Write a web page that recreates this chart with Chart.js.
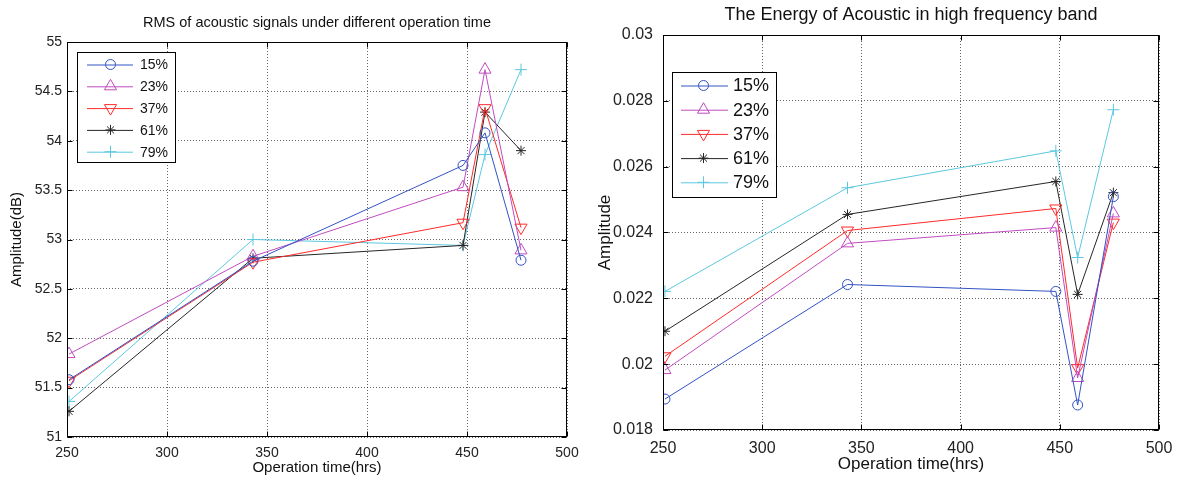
<!DOCTYPE html>
<html>
<head>
<meta charset="utf-8">
<script src="https://cdn.jsdelivr.net/npm/chart.js@4.4.1/dist/chart.umd.min.js"></script>
<style>
body { margin: 0; background: #fff; width: 1184px; height: 480px; overflow: hidden; position: relative; }
canvas { position: absolute; top: 0; }
</style>
</head>
<body>
<canvas id="rmsChart" width="592" height="480" style="left:0"></canvas>
<canvas id="energyChart" width="592" height="480" style="left:592px"></canvas>
<script>
// operation time of each measurement (hrs)
const hours = [251, 343, 448, 459, 477];
const seriesNames = ['15%', '23%', '37%', '61%', '79%'];

// RMS (dB)
const rms15 = [51.58, 52.78, 53.75, 54.08, 52.79];
const rms23 = [51.84, 52.83, 53.53, 54.72, 52.89];
const rms37 = [51.57, 52.77, 53.17, 54.33, 53.12];
const rms61 = [51.26, 52.81, 52.94, 54.29, 53.90];
const rms79 = [51.36, 53.00, 52.94, 53.86, 54.72];

// energy in high frequency band
const energy15 = [0.01894, 0.02242, 0.02221, 0.01876, 0.02509];
const energy23 = [0.01982, 0.02367, 0.02415, 0.01958, 0.02458];
const energy37 = [0.02024, 0.02406, 0.02473, 0.01988, 0.02430];
const energy61 = [0.02100, 0.02455, 0.02555, 0.02212, 0.02521];
const energy79 = [0.02221, 0.02536, 0.02648, 0.02324, 0.02773];

const hourTicks = [250, 300, 350, 400, 450, 500];
const rmsTicks = [51, 51.5, 52, 52.5, 53, 53.5, 54, 54.5, 55];
const energyTicks = [0.018, 0.02, 0.022, 0.024, 0.026, 0.028, 0.03];

const colors = ['#3352c4', '#c04cc0', '#ff2a2a', '#262626', '#5cc8de'];
const markers = ['circle', 'triangle', 'triangle', 'star', 'cross'];
const markerRot = [0, 0, 180, 0, 0];

Chart.defaults.font.family = '"Liberation Sans", Arial, sans-serif';
Chart.defaults.color = '#222';

const boxPlugin = {
    id: 'box',
    afterDatasetsDraw(chart, args, opts) {
        const { ctx, chartArea: a, scales } = chart;
        const l = Math.round(a.left) + 0.5, r = Math.round(a.right) - 0.5;
        const t = Math.round(a.top) + 0.5, b = Math.round(a.bottom) - 0.5;
        ctx.save();
        ctx.strokeStyle = '#000';
        ctx.lineWidth = 1;
        ctx.beginPath();
        scales.x.ticks.forEach(tk => {
            const px = Math.round(scales.x.getPixelForValue(tk.value)) + 0.5;
            ctx.moveTo(px, b); ctx.lineTo(px, b - opts.len);
            ctx.moveTo(px, t); ctx.lineTo(px, t + opts.len);
        });
        scales.y.ticks.forEach(tk => {
            const py = Math.round(scales.y.getPixelForValue(tk.value)) + 0.5;
            ctx.moveTo(l, py); ctx.lineTo(l + opts.len, py);
            ctx.moveTo(r, py); ctx.lineTo(r - opts.len, py);
        });
        ctx.stroke();
        ctx.strokeRect(l, t, r - l, b - t);
        ctx.restore();
    },
    afterDraw(chart, args, opts) {
        const lg = opts.legend;
        const ctx = chart.ctx;
        ctx.save();
        ctx.fillStyle = '#fff';
        ctx.fillRect(lg.x, lg.y, lg.w, lg.h);
        ctx.strokeStyle = '#000';
        ctx.lineWidth = 1;
        ctx.strokeRect(lg.x + 0.5, lg.y + 0.5, lg.w, lg.h);
        ctx.font = lg.font + 'px "Liberation Sans", Arial, sans-serif';
        ctx.textBaseline = 'middle';
        chart.data.datasets.forEach((ds, i) => {
            const y = lg.row0 + i * lg.gap;
            ctx.strokeStyle = ds.borderColor;
            ctx.beginPath();
            ctx.moveTo(lg.x1, y + 0.5); ctx.lineTo(lg.x2, y + 0.5);
            ctx.stroke();
            ctx.fillStyle = 'rgba(0,0,0,0)';
            Chart.helpers.drawPoint(ctx, {
                pointStyle: ds.pointStyle, rotation: ds.pointRotation,
                radius: ds.pointRadius, borderWidth: 1
            }, lg.xm, y);
            ctx.fillStyle = '#111';
            ctx.fillText(ds.label, lg.xt, y + 1);
        });
        ctx.restore();
    }
};

function makeChart(id, values, yTicks, s) {
    const datasets = values.map((vals, i) => ({
        label: seriesNames[i],
        data: hours.map((h, k) => ({ x: h, y: vals[k] })),
        borderColor: colors[i],
        backgroundColor: 'rgba(0,0,0,0)',
        pointBackgroundColor: 'rgba(0,0,0,0)',
        pointBorderColor: colors[i],
        borderWidth: 1,
        pointBorderWidth: 1,
        pointStyle: markers[i],
        pointRotation: markerRot[i],
        pointRadius: s.radius[i],
        tension: 0
    }));
    return new Chart(document.getElementById(id), {
        type: 'line',
        data: { datasets: datasets },
        plugins: [boxPlugin],
        options: {
            responsive: false,
            animation: false,
            layout: { padding: { left: 0, right: 25, top: 0, bottom: 0 } },
            plugins: {
                legend: { display: false },
                tooltip: { enabled: false },
                title: {
                    display: true, text: s.title, fullSize: false, color: '#111',
                    font: { size: s.titleSize, weight: 'normal' },
                    padding: s.titlePad
                },
                box: { len: s.tickLen, legend: s.legend }
            },
            scales: {
                x: {
                    type: 'linear', min: 250, max: 500,
                    afterBuildTicks: sc => { sc.ticks = hourTicks.map(v => ({ value: v })); },
                    afterFit: sc => { sc.height = s.xHeight; },
                    ticks: { font: { size: s.tickSize }, padding: s.xPad, maxRotation: 0, color: '#222',
                             callback: v => String(v) },
                    grid: { color: 'rgba(0,0,0,0.6)', drawTicks: false },
                    border: { display: false, dash: [1, 2] },
                    title: { display: true, text: 'Operation time(hrs)', color: '#111',
                             font: { size: s.labelSize }, padding: { top: 0, bottom: s.xTitlePad } }
                },
                y: {
                    min: yTicks[0], max: yTicks[yTicks.length - 1],
                    afterBuildTicks: sc => { sc.ticks = yTicks.map(v => ({ value: v })); },
                    afterFit: sc => { sc.width = s.yWidth; },
                    ticks: { font: { size: s.tickSize }, padding: s.yPad, color: '#222',
                             callback: v => String(v) },
                    grid: { color: 'rgba(0,0,0,0.6)', drawTicks: false },
                    border: { display: false, dash: [1, 2] },
                    title: { display: true, text: s.yLabel, color: '#111',
                             font: { size: s.labelSize }, padding: { top: s.yTitlePad, bottom: 0 } }
                }
            }
        }
    });
}

makeChart('rmsChart', [rms15, rms23, rms37, rms61, rms79], rmsTicks, {
    title: 'RMS of acoustic signals under different operation time',
    titleSize: 14.5, titlePad: { top: 14.5, bottom: 10.1 },
    yLabel: 'Amplitude(dB)', labelSize: 15, tickSize: 14,
    xHeight: 43, yWidth: 67, xPad: 8, yPad: 5, xTitlePad: 3, yTitlePad: 8,
    tickLen: 5, radius: [5, 7, 7, 5, 6],
    legend: { x: 77, y: 52, w: 98, h: 110, row0: 64.5, gap: 21.8,
              x1: 87, x2: 133, xm: 110.5, xt: 140, font: 14 }
});

makeChart('energyChart', [energy15, energy23, energy37, energy61, energy79], energyTicks, {
    title: 'The Energy of Acoustic in high frequency band',
    titleSize: 18, titlePad: { top: 4.2, bottom: 9.2 },
    yLabel: 'Amplitude', labelSize: 17, tickSize: 16,
    xHeight: 50, yWidth: 71, xPad: 9, yPad: 10, xTitlePad: 5, yTitlePad: 3,
    tickLen: 5, radius: [5, 7, 7, 5, 6],
    legend: { x: 80, y: 72, w: 104, h: 125, row0: 85.5, gap: 24.2,
              x1: 89, x2: 136, xm: 111.5, xt: 141, font: 18 }
});
</script>
</body>
</html>
